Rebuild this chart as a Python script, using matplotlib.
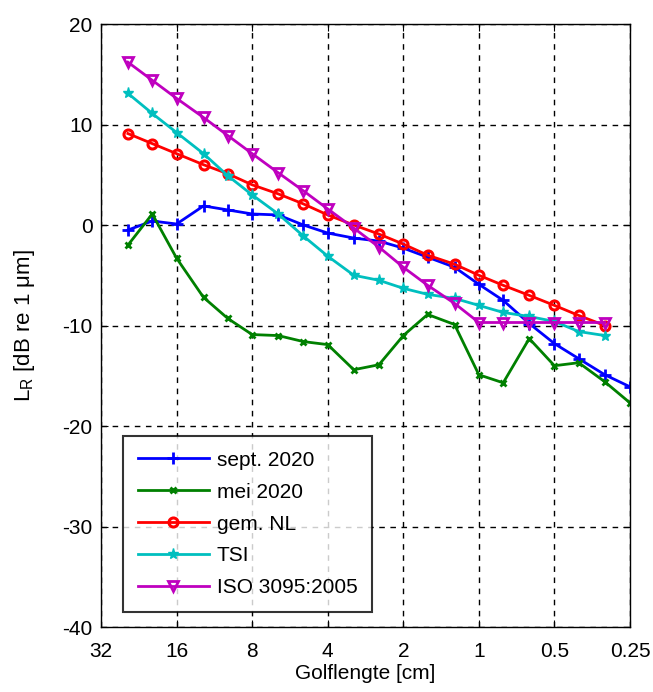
import matplotlib
matplotlib.use("Agg")
import matplotlib.pyplot as plt

plt.rcParams['font.family'] = ['Liberation Sans', 'DejaVu Sans']
plt.rcParams['mathtext.fontset'] = 'custom'
plt.rcParams['mathtext.rm'] = 'Liberation Sans'
plt.rcParams['mathtext.it'] = 'Liberation Sans'
plt.rcParams['axes.unicode_minus'] = False

wavelength = [25, 20, 16, 12.5, 10, 8, 6.3, 5, 4, 3.15, 2.5, 2, 1.6, 1.25,
              1, 0.8, 0.63, 0.5, 0.4, 0.315, 0.25]

sept2020 = [-0.5, 0.4, 0.1, 1.9, 1.5, 1.1, 1.0, 0.0, -0.8, -1.3, -1.6, -2.3,
            -3.2, -4.2, -5.9, -7.5, -9.8, -11.8, -13.3, -14.9, -16.1]
mei2020 = [-2.0, 1.1, -3.3, -7.2, -9.3, -10.9, -11.0, -11.6, -11.9, -14.4,
           -13.9, -11.0, -8.9, -9.9, -14.9, -15.7, -11.3, -14.0, -13.7, -15.6, -17.7]
gemNL = [9.1, 8.1, 7.1, 6.0, 5.1, 4.0, 3.1, 2.1, 1.0, 0.0, -0.9, -1.9, -3.0,
         -3.9, -5.0, -6.0, -7.0, -8.0, -9.0, -10.0]
tsi = [13.1, 11.1, 9.2, 7.1, 4.9, 3.0, 1.1, -1.1, -3.1, -5.0, -5.5, -6.3, -6.9,
       -7.3, -8.0, -8.7, -9.1, -9.6, -10.6, -11.0]
iso3095 = [16.2, 14.4, 12.6, 10.7, 8.9, 7.1, 5.2, 3.4, 1.6, -0.3, -2.2, -4.2,
           -6.0, -7.8, -9.7, -9.7, -9.7, -9.7, -9.7, -9.7]

xticks = [32, 16, 8, 4, 2, 1, 0.5, 0.25]
xticklabels = ['32', '16', '8', '4', '2', '1', '0.5', '0.25']
yticks = [20, 10, 0, -10, -20, -30, -40]

fig = plt.figure(figsize=(6.53, 6.92), dpi=100)
ax = fig.add_axes([0.1547, 0.0939, 0.8101, 0.8714])

lw = 2
ax.plot(wavelength, sept2020, color='#0000ff', marker='+', ms=8, mew=2, lw=lw, label='sept. 2020')
ax.plot(wavelength, mei2020, color='#008000', marker='x', ms=5, mew=2, lw=lw, label='mei 2020')
ax.plot(wavelength[:len(gemNL)], gemNL, color='#ff0000', marker='o', ms=6.5, mew=2.2,
        mfc='none', lw=lw, label='gem. NL')
ax.plot(wavelength[:len(tsi)], tsi, color='#00bfbf', marker='*', ms=8, mew=1, lw=lw, label='TSI')
ax.plot(wavelength[:len(iso3095)], iso3095, color='#bf00bf', marker='v', ms=7.5, mew=2,
        mfc='none', lw=lw, label='ISO 3095:2005')

ax.set_xscale('log', base=2)
ax.set_xlim(32, 0.25)
ax.set_ylim(-40, 20)
ax.set_xticks(xticks)
ax.set_xticklabels(xticklabels)
ax.minorticks_off()
ax.set_yticks(yticks)
ax.tick_params(direction='in', top=True, right=True, labelsize=15, length=5)
ax.tick_params(axis='x', pad=11)
ax.tick_params(axis='y', pad=6)
ax.grid(True, color='black', linestyle=(0, (4, 4)), linewidth=1)
for s in ax.spines.values():
    s.set_linewidth(1)

ax.set_xlabel('Golflengte [cm]', fontsize=15, labelpad=2)
ax.set_ylabel(r'L$_\mathrm{R}$ [dB re 1 $\mu$m]', fontsize=16, labelpad=18)

leg = ax.legend(loc='lower left', bbox_to_anchor=(0.042, 0.025), borderaxespad=0,
                fontsize=15, frameon=True, fancybox=False, edgecolor='black',
                handlelength=3.4, borderpad=0.7, labelspacing=0.62, handletextpad=0.4)
leg.get_frame().set_linewidth(1.5)

fig.savefig('out.png', dpi=100)
